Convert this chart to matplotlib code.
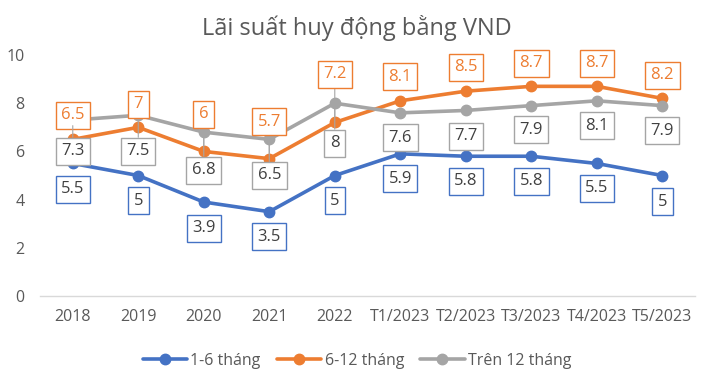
import matplotlib
matplotlib.use("Agg")
import matplotlib.pyplot as plt

plt.rcParams['font.family'] = ['Open Sans', 'DejaVu Sans']

categories = ["2018", "2019", "2020", "2021", "2022",
              "T1/2023", "T2/2023", "T3/2023", "T4/2023", "T5/2023"]
short_term = [5.5, 5, 3.9, 3.5, 5, 5.9, 5.8, 5.8, 5.5, 5]        # 1-6 tháng
mid_term = [6.5, 7, 6, 5.7, 7.2, 8.1, 8.5, 8.7, 8.7, 8.2]        # 6-12 tháng
long_term = [7.3, 7.5, 6.8, 6.5, 8, 7.6, 7.7, 7.9, 8.1, 7.9]     # Trên 12 tháng
series_names = ["1-6 tháng", "6-12 tháng", "Trên 12 tháng"]
title = "Lãi suất huy động bằng VND"

# label placement offsets (pixels, downward positive)
off_short = [26, 25, 26, 25, 25, 25, 25, 25, 25, 26]
off_mid = [-24, -23, -37, -37, -48, -24, -24, -23, -23, -23]
off_long = [31, 36, 38, 36, 40, 25, 26, 24, 25, 25]

colors = ["#4472C4", "#ED7D31", "#A5A5A5"]
text_colors = ["#404040", "#ED7D31", "#404040"]

fig = plt.figure(figsize=(7.21, 3.82), dpi=100)
ax = fig.add_axes([0.0555, 0.225, 0.9085, 0.631])

x = list(range(len(categories)))
all_series = [short_term, mid_term, long_term]
all_offsets = [off_short, off_mid, off_long]

for vals, col, name in zip(all_series, colors, series_names):
    ax.plot(x, vals, color=col, lw=2.6, marker='o', markersize=7.5,
            label=name, zorder=3, solid_capstyle='round')

px2pt = 72 / 100
for vals, offs, col, tcol in zip(all_series, all_offsets, colors, text_colors):
    for xi, v, o in zip(x, vals, offs):
        txt = f"{v:g}"
        lead = abs(o) > 30
        ax.annotate(txt, (xi, v), xytext=(0, -o * px2pt), textcoords='offset points',
                    ha='center', va='center', fontsize=12, color=tcol, zorder=5,
                    bbox=dict(boxstyle='square,pad=0.33', fc='white', ec=col, lw=1.0),
                    arrowprops=(dict(arrowstyle='-', color='#A6A6A6', lw=0.8,
                                     shrinkA=0, shrinkB=4) if lead else None),
                    annotation_clip=False)

ax.set_xlim(-0.5, len(categories) - 0.5)
ax.set_ylim(0, 10)
ax.set_yticks([0, 2, 4, 6, 8, 10])
ax.set_xticks(x)
ax.set_xticklabels(categories)
ax.tick_params(axis='both', length=0, labelsize=11.5, labelcolor='#595959')
ax.tick_params(axis='y', pad=11)
ax.tick_params(axis='x', pad=9)
for s in ['top', 'right', 'left']:
    ax.spines[s].set_visible(False)
ax.spines['bottom'].set_color('#D9D9D9')
ax.spines['bottom'].set_linewidth(1.0)

fig.suptitle(title, x=0.495, y=0.96, fontsize=17, color='#595959')

leg = fig.legend(loc='center', bbox_to_anchor=(0.495, 0.055), ncol=3, frameon=False,
                 fontsize=11.5, handlelength=2.8, columnspacing=1.0, handletextpad=0.2)
for t in leg.get_texts():
    t.set_color('#595959')

fig.savefig("out.png", dpi=100)
